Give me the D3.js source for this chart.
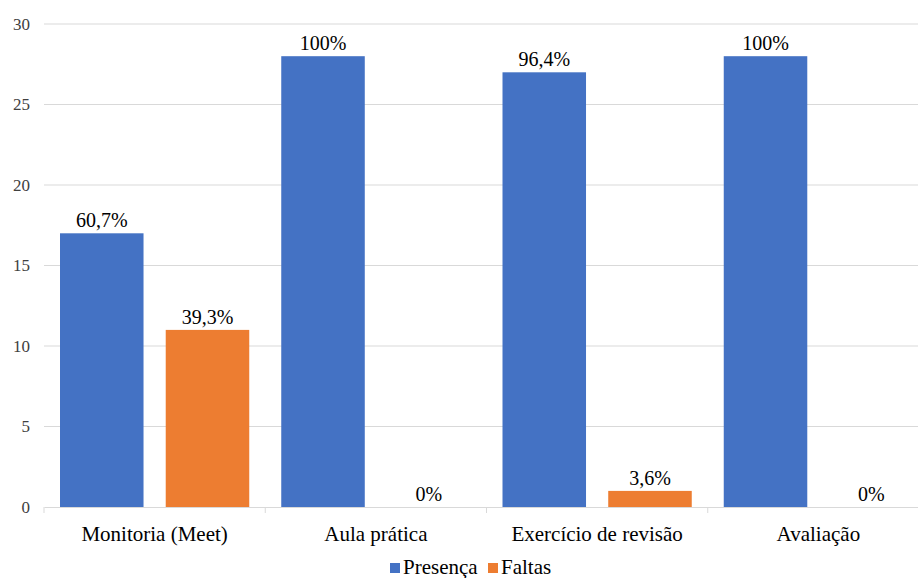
<!DOCTYPE html>
<html><head><meta charset="utf-8">
<script src="https://cdn.jsdelivr.net/npm/d3@7"></script>
<style>
body{margin:0;background:#fff}
svg{display:block}
svg, svg text, text{font-family:"Liberation Serif" !important}
</style>
</head><body>
<svg id="c" width="918" height="578" font-family="Liberation Serif" style="font-family:'Liberation Serif'"></svg>
<script>
const categories = ["Monitoria (Meet)", "Aula prática", "Exercício de revisão", "Avaliação"];
const seriesNames = ["Presença", "Faltas"];
const presenca = [17, 28, 27, 28];
const faltas = [11, 0, 1, 0];
const presencaLabels = ["60,7%", "100%", "96,4%", "100%"];
const faltasLabels = ["39,3%", "0%", "3,6%", "0%"];
const yTicks = [0, 5, 10, 15, 20, 25, 30];
const colors = ["#4472c4", "#ed7d31"];

(function () {
const svg = d3.select("#c");
const mLeft = 44, mRight = 929, mTop = 24, mBottom = 507;

const x = d3.scaleBand().domain(categories).range([mLeft, mRight]).paddingInner(0).paddingOuter(0);
const x1 = d3.scaleBand().domain(seriesNames).range([16, x.bandwidth() - 16]).paddingInner(0.21);
const y = d3.scaleLinear().domain([0, 30]).range([mBottom, mTop]);

svg.append("g").selectAll("line").data(yTicks.filter(d => d > 0)).join("line")
  .attr("x1", mLeft).attr("x2", mRight).attr("y1", d => y(d)).attr("y2", d => y(d))
  .attr("stroke", "#d9d9d9").attr("stroke-width", 1);

const ya = svg.append("g").attr("transform", `translate(${mLeft},0)`)
  .call(d3.axisLeft(y).tickValues(yTicks).tickSize(0).tickPadding(14));
ya.attr("font-family", "Liberation Serif").attr("font-size", 17);
ya.select(".domain").remove();
ya.selectAll("text").attr("fill", "#404040");

const xa = svg.append("g").attr("transform", `translate(0,${mBottom})`)
  .call(d3.axisBottom(x).tickSize(0).tickPadding(19));
xa.attr("font-family", "Liberation Serif").attr("font-size", 21);
xa.select(".domain").attr("stroke", "#d9d9d9");
xa.selectAll("text").attr("fill", "#000");
svg.append("g").selectAll("line").data(d3.range(categories.length + 1)).join("line")
  .attr("x1", i => mLeft + i * x.bandwidth()).attr("x2", i => mLeft + i * x.bandwidth())
  .attr("y1", mBottom).attr("y2", mBottom + 6).attr("stroke", "#d9d9d9");

const series = [presenca, faltas];
const labels = [presencaLabels, faltasLabels];
series.forEach((vals, si) => {
  const g = svg.append("g").attr("font-family", "Liberation Serif").attr("font-size", 20);
  g.selectAll("rect").data(categories).join("rect")
    .attr("x", (c) => x(c) + x1(seriesNames[si]))
    .attr("width", x1.bandwidth())
    .attr("y", (c, i) => y(vals[i]))
    .attr("height", (c, i) => mBottom - y(vals[i]))
    .attr("fill", colors[si]);
  g.selectAll("text").data(categories).join("text")
    .attr("x", (c) => x(c) + x1(seriesNames[si]) + x1.bandwidth() / 2)
    .attr("y", (c, i) => y(vals[i]) - 6)
    .attr("text-anchor", "middle")
    .attr("fill", "#000")
    .text((c, i) => labels[si][i]);
});

const leg = svg.append("g").attr("transform", "translate(390,574)")
  .attr("font-family", "Liberation Serif").attr("font-size", 21);
const items = [{n: seriesNames[0], c: colors[0], x: 0}, {n: seriesNames[1], c: colors[1], x: 98}];
items.forEach(it => {
  leg.append("rect").attr("x", it.x).attr("y", -11).attr("width", 10).attr("height", 10).attr("fill", it.c);
  leg.append("text").attr("x", it.x + 13).attr("y", 0).attr("fill", "#000").text(it.n);
});
})();
</script>
</body></html>
